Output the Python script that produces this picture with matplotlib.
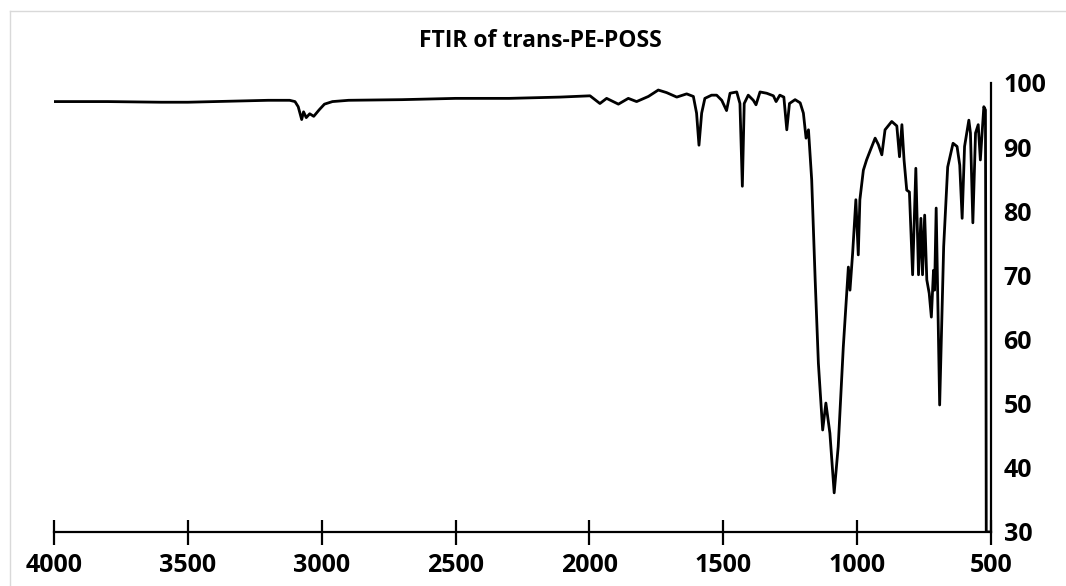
import matplotlib.pyplot as plt
from matplotlib.lines import Line2D
import numpy as np

plt.rcParams['font.family'] = ['Open Sans', 'DejaVu Sans']

# wavenumber (cm-1) and transmittance (%)
wavenumber = [4000, 3800, 3600, 3500, 3400, 3200, 3120, 3100, 3088, 3075, 3068,
              3058, 3045, 3030, 3010, 2990, 2960, 2900, 2700, 2500, 2300, 2110,
              1998, 1961, 1936, 1892, 1855, 1824, 1780, 1743, 1712, 1674, 1637,
              1612, 1600, 1591, 1581, 1569, 1544, 1525, 1506, 1488, 1475, 1450,
              1438, 1429, 1422, 1407, 1388, 1378, 1363, 1338, 1313, 1303, 1289,
              1274, 1263, 1253, 1232, 1213, 1201, 1191, 1182, 1170, 1157, 1145,
              1129, 1117, 1102, 1086, 1071, 1052, 1033, 1027, 1017, 1005, 996,
              990, 977, 965, 952, 933, 921, 908, 896, 871, 852, 842, 833, 825,
              815, 805, 793, 781, 771, 762, 756, 748, 740, 731, 723, 715, 711,
              705, 692, 677, 662, 642, 627, 617, 608, 599, 583, 577, 568, 558,
              548, 540, 527, 521, 519, 518, 500]
transmittance = [97.1, 97.1, 97.0, 97.0, 97.1, 97.3, 97.3, 97.1, 96.3, 94.3, 95.5,
                 94.6, 95.2, 94.8, 95.8, 96.7, 97.1, 97.3, 97.4, 97.6, 97.6, 97.8,
                 98.0, 96.8, 97.6, 96.7, 97.6, 97.1, 97.9, 98.9, 98.5, 97.8, 98.3,
                 97.9, 95.3, 90.3, 95.3, 97.6, 98.1, 98.1, 97.3, 95.7, 98.4, 98.6,
                 96.8, 83.9, 96.8, 98.1, 97.3, 96.6, 98.6, 98.4, 98.0, 97.1, 98.1,
                 97.8, 92.7, 96.8, 97.4, 96.9, 95.3, 91.4, 92.7, 84.9, 69.3, 56.3,
                 45.9, 50.1, 45.4, 36.1, 43.3, 58.8, 71.3, 67.7, 73.5, 81.8, 73.2,
                 81.8, 86.4, 88.0, 89.4, 91.4, 90.4, 88.8, 92.7, 94.0, 93.3, 88.5,
                 93.5, 88.0, 83.3, 83.0, 70.1, 86.7, 70.1, 78.9, 70.1, 79.4, 69.3,
                 67.2, 63.5, 70.8, 67.7, 80.5, 49.8, 74.5, 86.9, 90.6, 90.1, 87.2,
                 78.9, 90.1, 94.2, 92.2, 78.2, 92.2, 93.5, 88.0, 96.3, 95.8, 60.0,
                 30.0, 30.0]
xticks = [4000, 3500, 3000, 2500, 2000, 1500, 1000, 500]
yticks = [30, 40, 50, 60, 70, 80, 90, 100]

fig = plt.figure(figsize=(10.66, 5.86), dpi=100)
ax = fig.add_axes([0.0507, 0.0922, 0.879, 0.7662])

ax.plot(wavenumber, transmittance, color='black', lw=2.0)

ax.set_xlim(4000, 500)
ax.set_ylim(30, 100)
ax.set_xticks(xticks)
ax.set_yticks(yticks)

for side in ['top', 'left']:
    ax.spines[side].set_visible(False)
for side in ['bottom', 'right']:
    ax.spines[side].set_linewidth(1.6)

ax.yaxis.tick_right()
ax.tick_params(axis='y', length=0, pad=9, labelsize=18)
ax.tick_params(axis='x', direction='inout', length=18, width=1.6, pad=6,
               labelsize=18)
for lab in ax.get_xticklabels() + ax.get_yticklabels():
    lab.set_fontweight('bold')

fig.text(0.507, 0.93, 'FTIR of trans-PE-POSS', ha='center', va='center',
         fontsize=16.5, fontweight='bold')

# faint chart-area border
fig.add_artist(Line2D([10 / 1066, 1], [1 - 11 / 586, 1 - 11 / 586],
                      color='#d9d9d9', lw=1))
fig.add_artist(Line2D([10 / 1066, 10 / 1066], [0, 1 - 11 / 586],
                      color='#d9d9d9', lw=1))

fig.savefig('out.png', dpi=100)
